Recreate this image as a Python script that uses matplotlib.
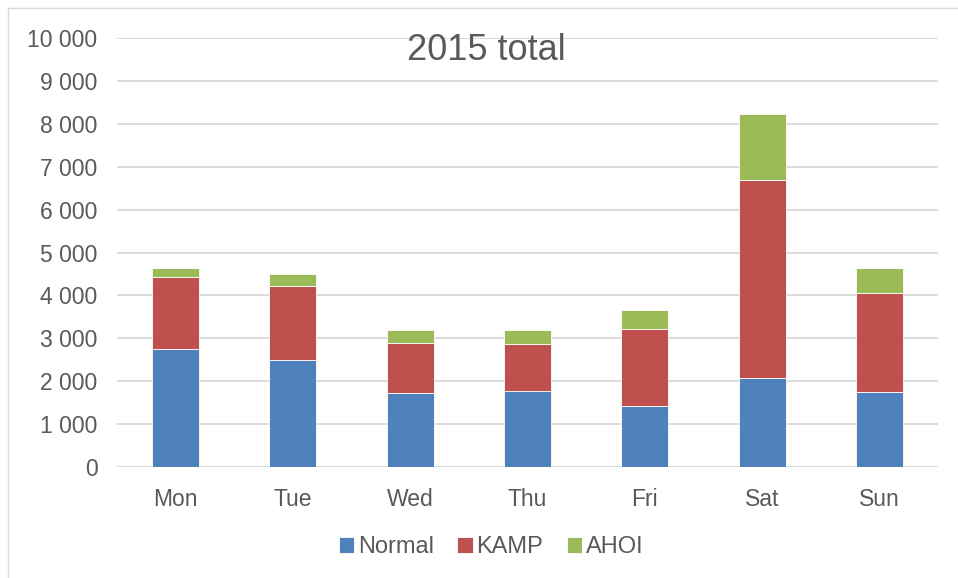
import numpy as np
import matplotlib.pyplot as plt
from matplotlib.patches import Rectangle

plt.rcParams['font.family'] = ['Liberation Sans', 'DejaVu Sans']

days = ['Mon', 'Tue', 'Wed', 'Thu', 'Fri', 'Sat', 'Sun']
normal = [2750, 2490, 1720, 1780, 1420, 2070, 1750]
kamp = [1680, 1730, 1180, 1090, 1800, 4620, 2300]
ahoi = [210, 280, 290, 320, 430, 1540, 600]
series = [('Normal', normal, '#4F81BD'), ('KAMP', kamp, '#C0504D'), ('AHOI', ahoi, '#9BBB59')]

fig = plt.figure(figsize=(9.58, 5.78), dpi=100)
ax = fig.add_axes([117 / 958, 1 - 467 / 578, 821 / 958, 429 / 578])

# light frame around the whole chart
fig.patches.append(Rectangle((8 / 958, -0.1), 1.2, 1.1 - 8 / 578, transform=fig.transFigure,
                             fill=False, edgecolor='#d9d9d9', linewidth=1))

x = np.arange(len(days))
bottom = np.zeros(len(days))
for name, vals, col in series:
    ax.bar(x, vals, width=0.4, bottom=bottom, color=col, label=name,
           edgecolor='white', linewidth=0.6, zorder=3)
    bottom += np.array(vals)

ax.set_xlim(-0.5, len(days) - 0.5)
ax.set_ylim(0, 10000)
ax.set_yticks(range(0, 10001, 1000))
ax.set_yticklabels([f'{v:,}'.replace(',', ' ') for v in range(0, 10001, 1000)])
ax.set_xticks(x)
ax.set_xticklabels(days)
ax.grid(axis='y', color='#d9d9d9', linewidth=1.3, zorder=0)
ax.set_axisbelow(True)
for s in ax.spines.values():
    s.set_visible(False)
ax.tick_params(axis='both', length=0, labelsize=16.5, colors='#595959')
ax.tick_params(axis='x', pad=15)
ax.tick_params(axis='y', pad=14)

fig.text(486 / 958, 1 - 50 / 578, '2015 total', ha='center', va='center',
         fontsize=26, color='#595959')

fig.legend(loc='center', bbox_to_anchor=(491 / 958, 1 - 547 / 578), ncol=3, frameon=False,
           fontsize=17, labelcolor='#595959', handlelength=0.65, handleheight=0.65,
           handletextpad=0.15, columnspacing=1.0)

fig.savefig('out.png', dpi=100)
